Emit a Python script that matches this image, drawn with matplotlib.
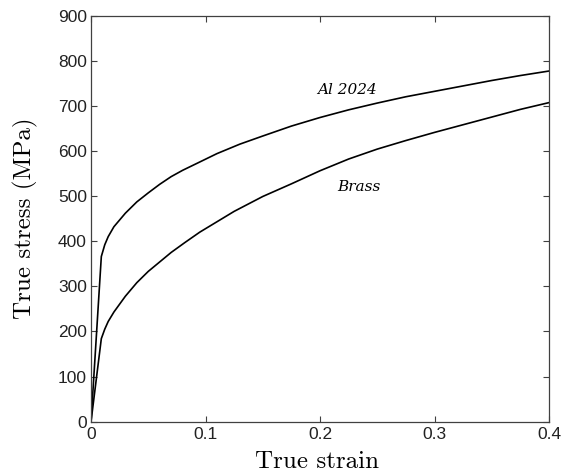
import matplotlib
matplotlib.use("Agg")
import matplotlib.pyplot as plt

# strain / stress
al_strain = [0, 0.009, 0.012, 0.015, 0.02, 0.03, 0.04, 0.05, 0.06, 0.07, 0.08,
             0.093, 0.11, 0.13, 0.15, 0.175, 0.2, 0.225, 0.25, 0.275, 0.3,
             0.325, 0.35, 0.375, 0.4]
al_stress = [0, 366, 392, 410, 432, 462, 487, 507, 526, 543, 557,
             573, 594, 615, 633, 655, 674, 691, 706, 720, 732,
             744, 756, 767, 777]

brass_strain = [0, 0.009, 0.012, 0.015, 0.02, 0.03, 0.04, 0.05, 0.06, 0.07, 0.082,
                0.095, 0.11, 0.125, 0.15, 0.175, 0.2, 0.225, 0.25, 0.275, 0.3,
                0.325, 0.35, 0.375, 0.4]
brass_stress = [0, 184, 205, 222, 243, 278, 308, 333, 354, 375, 397,
                420, 443, 466, 499, 527, 556, 582, 604, 623, 641,
                658, 675, 692, 707]

x_ticks = [0, 0.1, 0.2, 0.3, 0.4]
x_tick_labels = ["0", "0.1", "0.2", "0.3", "0.4"]
y_ticks = [0, 100, 200, 300, 400, 500, 600, 700, 800, 900]


def main():
    fig = plt.figure(figsize=(5.71, 4.73), dpi=100)
    ax = fig.add_axes([0.1594, 0.1085, 0.8021, 0.8587])

    ax.plot(al_strain, al_stress, color="black", lw=1.2)
    ax.plot(brass_strain, brass_stress, color="black", lw=1.2)

    ax.text(0.224, 735, "Al 2024", fontsize=11, style="italic",
            family="DejaVu Serif", ha="center", va="center")
    ax.text(0.234, 519, "Brass", fontsize=11, style="italic",
            family="DejaVu Serif", ha="center", va="center")

    ax.set_xlim(0, 0.4)
    ax.set_ylim(0, 900)
    ax.set_xticks(x_ticks)
    ax.set_xticklabels(x_tick_labels)
    ax.set_yticks(y_ticks)
    ax.tick_params(direction="in", length=4, width=0.8, color="#404040",
                   top=True, right=True, labelsize=12.5)
    ax.tick_params(axis="x", pad=4)
    ax.tick_params(axis="y", pad=3)
    for lab in ax.get_xticklabels() + ax.get_yticklabels():
        lab.set_family("Liberation Sans")
        lab.set_color("#222222")
    for sp in ax.spines.values():
        sp.set_color("#404040")
        sp.set_linewidth(0.9)

    ax.set_xlabel("True strain", family="cmr10", fontsize=18)
    ax.set_ylabel("True stress (MPa)", family="cmr10", fontsize=18)
    ax.xaxis.set_label_coords(0.494, -0.072)
    ax.yaxis.set_label_coords(-0.116, 0.5)

    fig.savefig("out.png", dpi=100)


if __name__ == "__main__":
    main()
